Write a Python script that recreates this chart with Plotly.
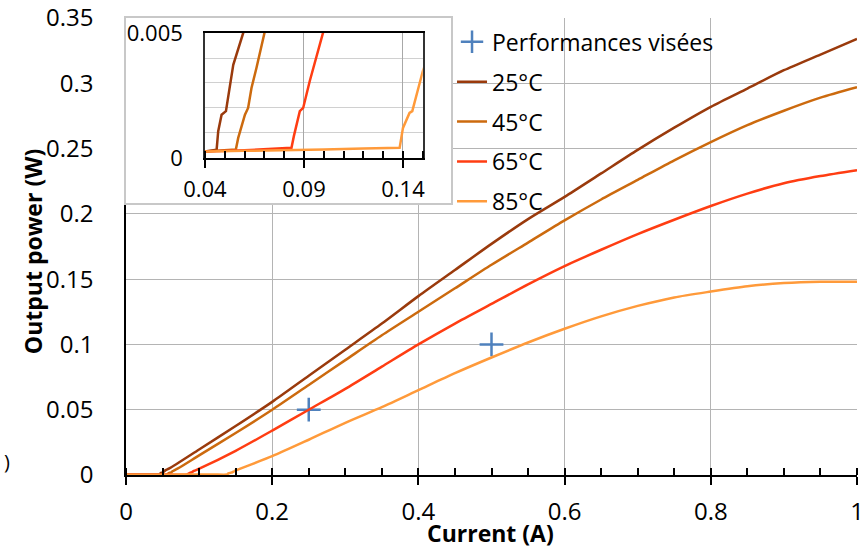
import plotly.graph_objects as go

# ---------------- data ----------------
target_current = [0.25, 0.5]
target_power = [0.05, 0.1]

I25 = [0, 0.02, 0.04, 0.0459, 0.0467, 0.0484, 0.0506, 0.0518, 0.0543, 0.0593, 0.1, 0.15, 0.2, 0.25,
       0.3, 0.35, 0.4, 0.45, 0.5, 0.55, 0.6, 0.65, 0.7, 0.75, 0.8, 0.85, 0.9, 0.95, 1.0]
P25 = [0.0001, 0.00015, 0.00025, 0.00033, 0.00107, 0.00173, 0.00187, 0.00253, 0.00373, 0.005, 0.0195,
       0.0375, 0.056, 0.076, 0.096, 0.116, 0.137, 0.157, 0.177, 0.196, 0.213, 0.231,
       0.249, 0.266, 0.282, 0.296, 0.310, 0.322, 0.334]

I45 = [0, 0.02, 0.04, 0.05, 0.0556, 0.0568, 0.0602, 0.0618, 0.0635, 0.066, 0.0711, 0.1, 0.15, 0.2,
       0.25, 0.3, 0.35, 0.4, 0.45, 0.5, 0.55, 0.6, 0.65, 0.7, 0.75, 0.8, 0.85, 0.9, 0.95, 1.0]
P45 = [0.0001, 0.00015, 0.00025, 0.0003, 0.00033, 0.0008, 0.00173, 0.002, 0.0028, 0.0036, 0.005,
       0.0150, 0.0322, 0.050, 0.069, 0.088, 0.107, 0.125, 0.143, 0.161, 0.178, 0.195, 0.211, 0.226,
       0.241, 0.255, 0.268, 0.279, 0.289, 0.297]

I65 = [0, 0.02, 0.04, 0.06, 0.0837, 0.0849, 0.0879, 0.0896, 0.0929, 0.101, 0.15, 0.2, 0.25, 0.3,
       0.35, 0.4, 0.45, 0.5, 0.55, 0.6, 0.65, 0.7, 0.75, 0.8, 0.85, 0.9, 0.95, 1.0]
P65 = [0.0001, 0.00015, 0.00025, 0.0003, 0.0004, 0.00087, 0.00187, 0.002, 0.00307, 0.005, 0.0185,
       0.034, 0.050, 0.066, 0.083, 0.100, 0.116, 0.131, 0.146, 0.160, 0.1725, 0.1845, 0.1955, 0.206,
       0.2155, 0.2235, 0.229, 0.2335]

I85 = [0, 0.04, 0.06, 0.08, 0.1, 0.12, 0.1383, 0.14, 0.1433, 0.1447, 0.1475, 0.15, 0.2, 0.25, 0.3,
       0.35, 0.4, 0.45, 0.5, 0.55, 0.6, 0.65, 0.7, 0.75, 0.8, 0.85, 0.9, 0.95, 1.0]
P85 = [0.0001, 0.00025, 0.00028, 0.0003, 0.00033, 0.00037, 0.0004, 0.0012, 0.0018, 0.00187, 0.00267,
       0.00347, 0.0144, 0.027, 0.040, 0.052, 0.065, 0.078, 0.090, 0.1015, 0.112, 0.1215, 0.1295, 0.136,
       0.1405, 0.1445, 0.147, 0.148, 0.148]

series_names = ["25°C", "45°C", "65°C", "85°C"]
series_x = [I25, I45, I65, I85]
series_y = [P25, P45, P65, P85]
series_colors = ["#9A3A0C", "#CC6A0E", "#FF3D12", "#FF9A3A"]

x_ticks_main = [0, 0.2, 0.4, 0.6, 0.8, 1]
x_labels_main = ["0", "0.2", "0.4", "0.6", "0.8", "1"]
y_ticks_main = [0, 0.05, 0.1, 0.15, 0.2, 0.25, 0.3, 0.35]
y_labels_main = ["0", "0.05", "0.1", "0.15", "0.2", "0.25", "0.3", "0.35"]
x_ticks_inset = [0.04, 0.09, 0.14]
x_labels_inset = ["0.04", "0.09", "0.14"]
y_ticks_inset = [0, 0.005]
y_labels_inset = ["0", "0.005"]

FONT = "Open Sans"
GRID = "#B4B4B4"

fig = go.Figure()

# main: target points
fig.add_trace(go.Scatter(
    x=target_current, y=target_power, mode="markers", name="Performances visées",
    marker=dict(symbol="cross-thin", size=17, line=dict(width=2.5, color="#4F81BD"), color="#4F81BD"),
    legendgroup="g0", xaxis="x", yaxis="y"))

for k, (nm, xs, ys, c) in enumerate(zip(series_names, series_x, series_y, series_colors)):
    fig.add_trace(go.Scatter(x=xs, y=ys, mode="lines", name=nm,
                             line=dict(color=c, width=2.5, shape="spline", smoothing=0.7),
                             legendgroup="g%d" % (k + 1), xaxis="x", yaxis="y"))

# inset box (blank subplot with white background)
fig.add_trace(go.Scatter(x=[], y=[], xaxis="x2", yaxis="y2", showlegend=False, hoverinfo="skip"))

# inset
for nm, xs, ys, c in zip(series_names, series_x, series_y, series_colors):
    fig.add_trace(go.Scatter(x=xs, y=ys, mode="lines", name=nm, line=dict(color=c, width=2.5),
                             showlegend=False, xaxis="x3", yaxis="y3"))

fig.update_layout(
    width=868, height=555,
    margin=dict(l=126, r=11, t=18, b=80, autoexpand=False),
    paper_bgcolor="white", plot_bgcolor="white",
    font=dict(family=FONT, size=22, color="black"),
    showlegend=True,
    legend=dict(x=0.446, y=0.995, xanchor="left", yanchor="top", bgcolor="rgba(0,0,0,0)",
                font=dict(family=FONT, size=23, color="black"), traceorder="grouped",
                tracegroupgap=7, itemwidth=30),
    xaxis=dict(domain=[0, 1], range=[0, 1], tickvals=x_ticks_main, ticktext=x_labels_main,
               showgrid=True, gridcolor=GRID, gridwidth=1, zeroline=False, automargin=False,
               showline=True, linecolor="black", linewidth=2,
               ticks="outside", ticklen=8, tickwidth=1.5, tickcolor="black", ticklabelstandoff=6,
               minor=dict(dtick=0.05, ticks="inside", ticklen=7, tickwidth=1.5, tickcolor="black", showgrid=False),
               tickfont=dict(size=24), anchor="y"),
    yaxis=dict(domain=[0, 1], range=[0, 0.35], tickvals=y_ticks_main, ticktext=y_labels_main,
               showgrid=True, gridcolor=GRID, gridwidth=1, zeroline=False, automargin=False,
               showline=True, linecolor="black", linewidth=1.5, ticks="", ticklabelstandoff=26,
               tickfont=dict(size=24), anchor="x"),
    xaxis2=dict(domain=[0, 0.4446], range=[0, 1], anchor="y2", showgrid=False, zeroline=False,
                automargin=False, showticklabels=False, ticks="", showline=True, mirror=True,
                linecolor="#C8C8C8", linewidth=2),
    yaxis2=dict(domain=[0.595, 1], range=[0, 1], anchor="x2", showgrid=False, zeroline=False,
                automargin=False, showticklabels=False, ticks="", showline=True, mirror=True,
                linecolor="#C8C8C8", linewidth=2),
    xaxis3=dict(domain=[0.108, 0.406], range=[0.04, 0.15], anchor="y3",
                tickvals=x_ticks_inset, ticktext=x_labels_inset, automargin=False,
                showgrid=True, gridcolor="#A8A8A8", gridwidth=1, zeroline=False,
                showline=True, mirror=True, linecolor="black", linewidth=2,
                ticks="outside", ticklen=8, tickwidth=1.5, tickcolor="black", ticklabelstandoff=3,
                minor=dict(dtick=0.01, tick0=0.04, ticks="inside", ticklen=7, tickwidth=1.5,
                           tickcolor="black", showgrid=False),
                tickfont=dict(size=22)),
    yaxis3=dict(domain=[0.694, 0.967], range=[0, 0.005], anchor="x3",
                tickvals=y_ticks_inset, ticktext=y_labels_inset, automargin=False,
                showgrid=False, zeroline=False,
                showline=True, mirror=True, linecolor="#333333", linewidth=1.5, ticks="",
                ticklabelstandoff=16,
                minor=dict(dtick=0.001, tick0=0, showgrid=True, gridcolor="#D0D0D0", gridwidth=1, ticks=""),
                tickfont=dict(size=22)),
    annotations=[
        dict(text="<b>Current (A)</b>", xref="paper", yref="paper", x=0.498, y=-0.127,
             showarrow=False, font=dict(size=23, family=FONT, color="black"), xanchor="center", yanchor="middle"),
        dict(text="<b>Output power (W)</b>", xref="paper", yref="paper", x=-0.127, y=0.488,
             showarrow=False, textangle=-90, font=dict(size=23, family=FONT, color="black"),
             xanchor="center", yanchor="middle"),
        dict(text=")", xref="paper", yref="paper", x=-0.1695, y=0.03, showarrow=False,
             font=dict(size=20, family=FONT, color="black"), xanchor="left", yanchor="middle"),
    ],
)

fig.write_html("out.html")
